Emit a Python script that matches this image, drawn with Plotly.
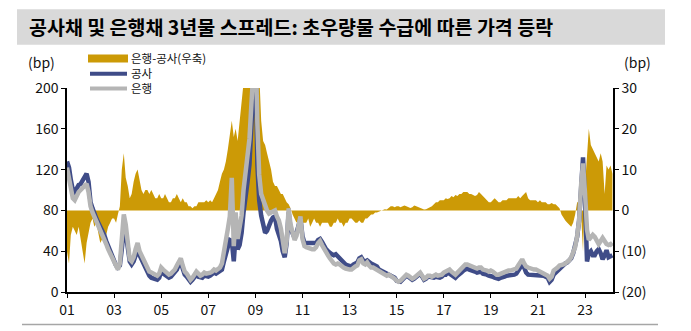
import pandas as pd
import plotly.graph_objects as go

# ---- data (monthly, Jan 2001 - Mar 2024), bp ----
dates = pd.date_range("2001-01-01", "2024-03-01", freq="MS")

gongsa = [  # 공사채 3년 스프레드 (left axis)
    128,122,110,100,98,102,105,106,110,114,116,108,   # 2001
    88,82,76,72,68,64,61,56,50,45,40,36,              # 2002
    30,26,24,26,42,62,58,42,30,27,30,36,              # 2003
    44,36,32,26,22,18,16,14,13,12,12,14,              # 2004
    20,18,17,15,14,15,17,19,22,27,30,23,              # 2005
    17,15,12,10,12,15,17,15,14,14,16,15,              # 2006
    15,16,17,19,18,19,20,22,30,36,44,51,              # 2007
    50,30,56,42,46,58,78,98,108,125,165,240,          # 2008
    240,125,90,75,65,58,60,66,70,73,74,62,            # 2009
    56,50,40,34,48,78,62,56,53,58,66,72,              # 2010
    55,48,48,48,47,47,47,48,51,52,49,45,              # 2011
    42,40,38,37,36,37,35,33,30,28,27,26,              # 2012
    26,25,27,28,29,33,34,31,30,31,29,28,              # 2013
    27,26,25,22,21,20,19,18,18,17,16,14,              # 2014
    11,10,10,12,14,16,15,13,12,13,15,17,              # 2015
    18,15,12,13,15,15,14,14,15,14,14,15,              # 2016
    17,17,19,18,17,15,14,16,17,19,21,22,              # 2017
    23,22,21,20,20,19,19,20,18,18,17,16,              # 2018
    16,15,14,13,13,14,14,15,16,16,16,17,              # 2019
    17,18,21,26,27,24,19,17,17,17,17,17,              # 2020
    17,17,16,16,15,14,10,12,17,19,21,23,              # 2021
    24,26,28,29,31,33,38,46,54,70,110,132,            # 2022
    90,30,38,40,36,36,40,42,38,32,36,41,              # 2023
    34,35,36,                                         # 2024
]

eunhaeng = [  # 은행채 3년 스프레드 (left axis)
    122,112,100,92,90,95,98,100,102,104,106,98,       # 2001
    84,78,74,70,66,62,58,52,47,42,38,34,              # 2002
    28,24,22,28,50,76,66,45,32,30,34,42,              # 2003
    48,40,36,30,26,22,20,19,18,16,16,18,              # 2004
    24,22,20,18,17,18,20,22,26,30,33,26,              # 2005
    20,18,14,12,14,18,20,18,16,17,19,18,              # 2006
    18,19,20,22,21,22,24,28,38,48,62,74,              # 2007
    112,45,78,52,62,75,100,118,130,150,185,250,       # 2008
    250,165,115,96,90,84,80,77,78,80,80,74,           # 2009
    70,62,48,38,50,82,66,58,51,55,64,74,              # 2010
    52,45,44,43,43,42,42,44,48,50,46,42,              # 2011
    38,36,33,30,28,27,28,27,25,24,23,22,              # 2012
    22,22,24,25,26,31,32,28,27,29,26,24,              # 2013
    24,23,22,20,19,18,17,16,17,16,15,13,              # 2014
    11,10,11,13,15,17,16,14,13,14,16,18,              # 2015
    19,16,13,14,16,16,15,16,17,16,16,17,              # 2016
    19,20,22,22,20,18,17,19,21,23,26,27,              # 2017
    27,26,25,25,24,23,24,24,22,22,21,20,              # 2018
    21,20,18,17,17,18,19,20,21,21,21,22,              # 2019
    22,23,26,30,32,28,25,24,23,23,22,22,              # 2020
    21,20,19,18,17,16,13,15,21,22,24,26,              # 2021
    26,27,28,29,31,34,38,44,55,70,105,126,            # 2022
    97,61,51,54,56,54,50,47,50,53,50,47,              # 2023
    46,47,45,                                         # 2024
]

spread = [  # 은행-공사 (right axis)
    -10,-13,-6,-4,-5,-6,-4,-7,-9,-13,-8,-5,           # 2001
    -3,-2,-4,-3,-6,-8,-7,-5,-6,-4,-3,-2,              # 2002
    -2,-3,-1,1,10,14,8,6,3,4,7,9,                     # 2003
    10,7,5,4,5,5,4,5,4,3,3,4,                         # 2004
    3,3,4,3,2,2,3,3,4,3,2,3,                          # 2005
    2,2,1,1,0.5,1,1,2,2,2,2,2.5,                      # 2006
    2,2.5,2,3,4,5,7,9,10,12,15,18,                    # 2007
    22,18,20,17,22,26,33,36,36,36,36,36,              # 2008
    36,36,34,22,17,16,14,12,10,7,6,6,                 # 2009
    5,4,4,3,2,1.5,0.5,-1,-2,-3,-2,-2,                 # 2010
    -3,-3,-3,-2,-4,-3,-2,-3,-3,-4,-3,-3,              # 2011
    -3,-3,-4,-4,-3,-3,-2,-3,-3,-4,-3,-3,              # 2012
    -2,-2,-2.5,-3,-3,-2.5,-3,-3,-2,-2,-1.5,-1,        # 2013
    -1,-0.5,-0.5,-0.3,-0.2,0,0.3,0.2,0.5,1,1,0.8,     # 2014
    1,1,0.8,1,1.2,1,0.8,0.6,0.8,1.2,1,0.8,            # 2015
    0.6,0.4,0.2,0.3,0.5,0.8,1,1.5,2,2,2.5,2.5,        # 2016
    2.5,3,2.8,3,3.5,3.2,3.8,3.5,4,4,4.5,4.5,          # 2017
    4.5,4,4,3.8,3.5,3.8,4.5,4,3.5,3,2.5,2,            # 2018
    2,2.5,3,2.5,2,2,2.5,2.5,2.5,3,3,3,                # 2019
    3,3,3.5,3,3.5,4,4.5,3,2.5,2.5,2.5,2.5,            # 2020
    2,2.5,2,2,2,1.5,1.5,1.8,1.5,1.5,1,0.5,            # 2021
    -1,-2,-2.5,-3,-3.5,-4,-3,-1,2,2,-1,-10,           # 2022
    6,14,20,16,15,14,13,12,14,12,4,11,                # 2023
    10,11,9,                                          # 2024
]

series_names = ["은행-공사(우축)", "공사", "은행"]
tick_years = list(range(2001, 2024, 2))
tick_labels = [f"{y % 100:02d}" for y in tick_years]
right_ticks = [-20, -10, 0, 10, 20, 30]
right_labels = ["(20)", "(10)", "0", "10", "20", "30"]

GOLD = "#CC9A06"
NAVY = "#3F4C88"
GRAY = "#B5B5B5"
FONT = "Noto Sans CJK KR"

W, H = 691, 331
L, R, T, B = 67, 613, 88, 295


def px(x):
    return (x - L) / (R - L)


def py(y):
    return (B - y) / (B - T)


fig = go.Figure()
fig.add_trace(go.Scatter(
    x=dates, y=spread, name=series_names[0], yaxis="y",
    mode="lines", line=dict(width=0, color=GOLD),
    fill="tozeroy", fillcolor=GOLD,
))
fig.add_trace(go.Scatter(
    x=dates, y=gongsa, name=series_names[1], yaxis="y2",
    mode="lines", line=dict(width=4.5, color=NAVY),
))
fig.add_trace(go.Scatter(
    x=dates, y=eunhaeng, name=series_names[2], yaxis="y2",
    mode="lines", line=dict(width=4.5, color=GRAY),
))

axis_common = dict(
    showline=True, linecolor="black", linewidth=1.5,
    ticks="outside", ticklen=4, tickwidth=1.2, tickcolor="black",
    showgrid=False, zeroline=False,
    tickfont=dict(family=FONT, size=14, color="#111"),
)

# compact legend (swatches + one multi-line label block), tight spacing as in the original
legend_shapes = [
    dict(type="rect", xref="paper", yref="paper",
         x0=px(88), x1=px(128), y0=py(62), y1=py(54),
         fillcolor=GOLD, line=dict(width=0)),
    dict(type="line", xref="paper", yref="paper",
         x0=px(90), x1=px(127), y0=py(73.5), y1=py(73.5),
         line=dict(color=NAVY, width=4)),
    dict(type="line", xref="paper", yref="paper",
         x0=px(90), x1=px(127), y0=py(88.5), y1=py(88.5),
         line=dict(color=GRAY, width=4)),
]
legend_text = dict(
    text="<br>".join(series_names), xref="paper", yref="paper",
    x=px(130), y=py(73), xanchor="left", yanchor="middle", align="left",
    showarrow=False, borderpad=0,
    font=dict(family=FONT, size=11.5, color="#111"),
)

fig.update_layout(
    width=W, height=H,
    margin=dict(l=L, r=W - R, t=T, b=H - B),
    paper_bgcolor="white", plot_bgcolor="white",
    font=dict(family=FONT, size=13, color="#111"),
    showlegend=False,
    xaxis=dict(
        type="date", range=["2001-01-01", "2024-03-10"],
        tickvals=[pd.Timestamp(f"{y}-01-01") for y in tick_years],
        ticktext=tick_labels, **axis_common,
    ),
    yaxis=dict(
        side="right", range=[-20, 30], tickvals=right_ticks,
        ticktext=right_labels, **axis_common,
    ),
    yaxis2=dict(
        side="left", overlaying="y", range=[0, 200],
        tickvals=[0, 40, 80, 120, 160, 200], **axis_common,
    ),
    shapes=[
        dict(type="rect", xref="paper", yref="paper",
             x0=px(17), x1=px(665), y0=py(44), y1=py(8),
             fillcolor="#D9D9D9", line=dict(width=0), layer="below"),
        dict(type="line", xref="paper", yref="paper",
             x0=px(22), x1=px(658), y0=py(328), y1=py(328),
             line=dict(color="#A6A6A6", width=1.5)),
    ] + legend_shapes,
    annotations=[
        dict(text="<b>공사채 및 은행채 3년물 스프레드: 초우량물 수급에 따른 가격 등락</b>",
             xref="paper", yref="paper", x=px(27), y=py(26),
             xanchor="left", yanchor="middle", showarrow=False,
             font=dict(family=FONT, size=19.5, color="black")),
        dict(text="(bp)", xref="paper", yref="paper", x=px(41), y=py(62),
             xanchor="center", yanchor="middle", showarrow=False,
             font=dict(family=FONT, size=14, color="#111")),
        dict(text="(bp)", xref="paper", yref="paper", x=px(637), y=py(62),
             xanchor="center", yanchor="middle", showarrow=False,
             font=dict(family=FONT, size=14, color="#111")),
        legend_text,
    ],
)

fig.write_html("out.html")
